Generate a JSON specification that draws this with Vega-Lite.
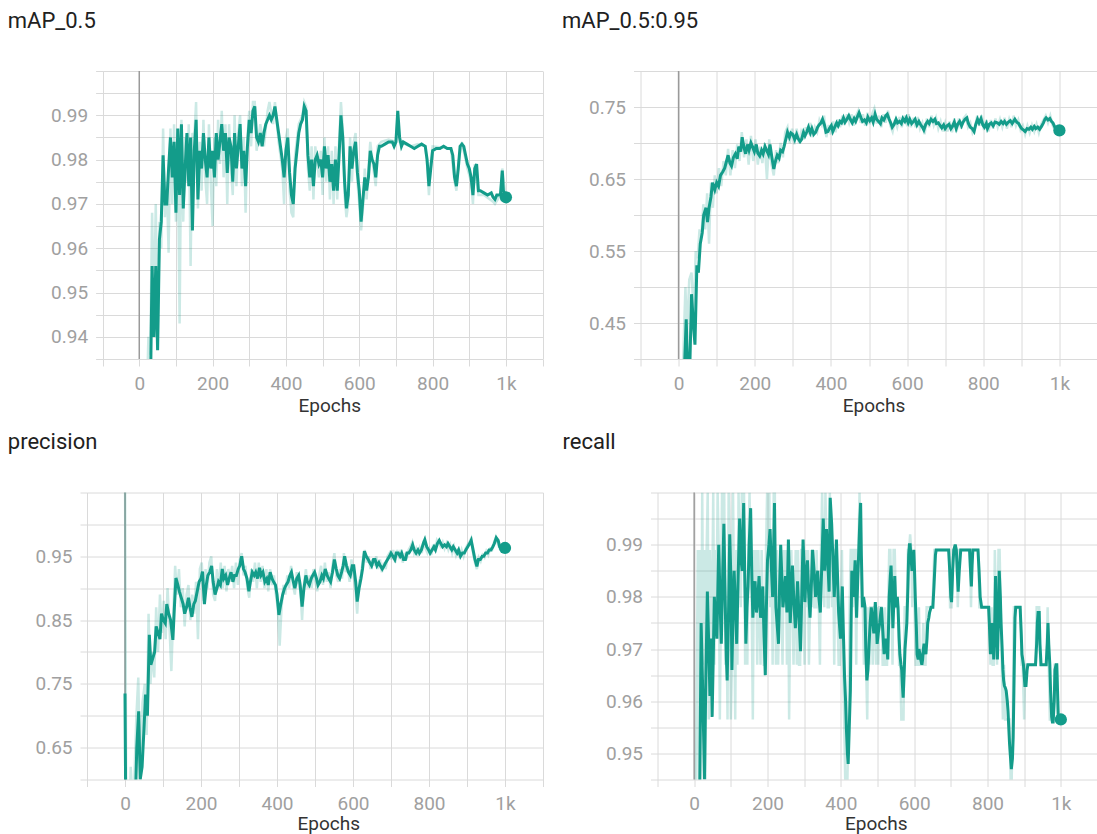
{
"$schema": "https://vega.github.io/schema/vega-lite/v6.json",
"background": "white",
"padding": {"left": 7, "top": 9, "right": 0, "bottom": 0},
"config": {
  "view": {"stroke": null},
  "axis": {"gridColor": "#dadada", "tickColor": "#dadada", "gridWidth": 1, "tickWidth": 1, "tickSize": 7, "domain": false, "labelColor": "#a0a0a0", "labelFont": "Roboto", "labelFontSize": 19, "titleFont": "Roboto", "titleFontWeight": "normal", "labelOverlap": false, "labelBound": false, "tickCount": 100}
},
"datasets": {
"p1s": [{"e":0,"v":0.6},{"e":10,"v":0.8},{"e":20,"v":0.88},{"e":30,"v":0.925},{"e":35,"v":0.956},{"e":40,"v":0.94},{"e":45,"v":0.956},{"e":50,"v":0.937},{"e":55,"v":0.962},{"e":60,"v":0.966},{"e":65,"v":0.981},{"e":70,"v":0.97},{"e":75,"v":0.97},{"e":80,"v":0.978},{"e":85,"v":0.985},{"e":90,"v":0.976},{"e":95,"v":0.984},{"e":100,"v":0.968},{"e":105,"v":0.987},{"e":110,"v":0.972},{"e":115,"v":0.988},{"e":120,"v":0.969},{"e":125,"v":0.978},{"e":130,"v":0.986},{"e":135,"v":0.974},{"e":140,"v":0.985},{"e":145,"v":0.964},{"e":150,"v":0.982},{"e":155,"v":0.989},{"e":160,"v":0.971},{"e":165,"v":0.982},{"e":170,"v":0.978},{"e":175,"v":0.986},{"e":180,"v":0.98},{"e":185,"v":0.976},{"e":190,"v":0.985},{"e":195,"v":0.978},{"e":200,"v":0.982},{"e":205,"v":0.976},{"e":210,"v":0.986},{"e":215,"v":0.98},{"e":220,"v":0.984},{"e":225,"v":0.988},{"e":230,"v":0.982},{"e":235,"v":0.986},{"e":240,"v":0.977},{"e":245,"v":0.985},{"e":250,"v":0.983},{"e":255,"v":0.975},{"e":260,"v":0.986},{"e":265,"v":0.978},{"e":270,"v":0.983},{"e":275,"v":0.988},{"e":280,"v":0.978},{"e":285,"v":0.982},{"e":290,"v":0.974},{"e":295,"v":0.983},{"e":300,"v":0.989},{"e":305,"v":0.986},{"e":310,"v":0.991},{"e":315,"v":0.992},{"e":320,"v":0.985},{"e":325,"v":0.984},{"e":330,"v":0.986},{"e":335,"v":0.983},{"e":340,"v":0.986},{"e":345,"v":0.988},{"e":350,"v":0.989},{"e":355,"v":0.99},{"e":360,"v":0.989},{"e":365,"v":0.99},{"e":370,"v":0.992},{"e":375,"v":0.989},{"e":380,"v":0.986},{"e":385,"v":0.983},{"e":390,"v":0.98},{"e":395,"v":0.976},{"e":400,"v":0.982},{"e":405,"v":0.985},{"e":410,"v":0.977},{"e":415,"v":0.972},{"e":420,"v":0.97},{"e":425,"v":0.978},{"e":430,"v":0.982},{"e":435,"v":0.986},{"e":440,"v":0.988},{"e":445,"v":0.989},{"e":450,"v":0.992},{"e":455,"v":0.991},{"e":460,"v":0.981},{"e":465,"v":0.976},{"e":470,"v":0.98},{"e":475,"v":0.974},{"e":480,"v":0.98},{"e":485,"v":0.981},{"e":490,"v":0.979},{"e":495,"v":0.98},{"e":500,"v":0.976},{"e":505,"v":0.983},{"e":510,"v":0.978},{"e":515,"v":0.981},{"e":520,"v":0.975},{"e":525,"v":0.979},{"e":530,"v":0.973},{"e":535,"v":0.98},{"e":540,"v":0.973},{"e":545,"v":0.981},{"e":550,"v":0.99},{"e":555,"v":0.985},{"e":560,"v":0.975},{"e":565,"v":0.969},{"e":570,"v":0.972},{"e":575,"v":0.983},{"e":580,"v":0.978},{"e":585,"v":0.982},{"e":590,"v":0.984},{"e":595,"v":0.977},{"e":600,"v":0.973},{"e":605,"v":0.966},{"e":610,"v":0.971},{"e":615,"v":0.976},{"e":620,"v":0.973},{"e":625,"v":0.976},{"e":630,"v":0.982},{"e":635,"v":0.98},{"e":640,"v":0.979},{"e":645,"v":0.976},{"e":650,"v":0.981},{"e":655,"v":0.983},{"e":660,"v":0.983},{"e":670,"v":0.9835},{"e":680,"v":0.984},{"e":690,"v":0.984},{"e":695,"v":0.983},{"e":700,"v":0.984},{"e":705,"v":0.991},{"e":710,"v":0.985},{"e":715,"v":0.983},{"e":720,"v":0.984},{"e":730,"v":0.9835},{"e":740,"v":0.983},{"e":750,"v":0.9825},{"e":760,"v":0.983},{"e":770,"v":0.9835},{"e":780,"v":0.983},{"e":785,"v":0.98},{"e":790,"v":0.974},{"e":795,"v":0.978},{"e":800,"v":0.982},{"e":810,"v":0.9825},{"e":820,"v":0.9825},{"e":830,"v":0.983},{"e":840,"v":0.9825},{"e":850,"v":0.9825},{"e":855,"v":0.981},{"e":860,"v":0.976},{"e":865,"v":0.974},{"e":870,"v":0.978},{"e":875,"v":0.983},{"e":880,"v":0.9835},{"e":885,"v":0.983},{"e":890,"v":0.981},{"e":895,"v":0.979},{"e":900,"v":0.978},{"e":905,"v":0.976},{"e":910,"v":0.972},{"e":915,"v":0.978},{"e":920,"v":0.979},{"e":925,"v":0.973},{"e":930,"v":0.973},{"e":940,"v":0.9725},{"e":950,"v":0.972},{"e":960,"v":0.9725},{"e":965,"v":0.9715},{"e":970,"v":0.971},{"e":975,"v":0.972},{"e":980,"v":0.972},{"e":985,"v":0.972},{"e":990,"v":0.9775},{"e":993,"v":0.973},{"e":1000,"v":0.9715}],
"p1r": [{"e":20,"v":0.925},{"e":25,"v":0.94},{"e":30,"v":0.936},{"e":35,"v":0.968},{"e":40,"v":0.945},{"e":45,"v":0.97},{"e":50,"v":0.938},{"e":55,"v":0.966},{"e":60,"v":0.96},{"e":65,"v":0.987},{"e":70,"v":0.967},{"e":75,"v":0.975},{"e":80,"v":0.959},{"e":85,"v":0.987},{"e":90,"v":0.97},{"e":95,"v":0.988},{"e":100,"v":0.966},{"e":105,"v":0.984},{"e":110,"v":0.943},{"e":115,"v":0.989},{"e":120,"v":0.966},{"e":125,"v":0.985},{"e":130,"v":0.975},{"e":135,"v":0.988},{"e":140,"v":0.956},{"e":145,"v":0.986},{"e":150,"v":0.985},{"e":155,"v":0.993},{"e":160,"v":0.969},{"e":165,"v":0.984},{"e":170,"v":0.973},{"e":175,"v":0.989},{"e":180,"v":0.976},{"e":185,"v":0.97},{"e":190,"v":0.988},{"e":195,"v":0.975},{"e":200,"v":0.965},{"e":205,"v":0.985},{"e":210,"v":0.974},{"e":215,"v":0.989},{"e":220,"v":0.979},{"e":225,"v":0.991},{"e":230,"v":0.976},{"e":235,"v":0.988},{"e":240,"v":0.97},{"e":245,"v":0.988},{"e":250,"v":0.978},{"e":255,"v":0.972},{"e":260,"v":0.99},{"e":265,"v":0.974},{"e":270,"v":0.986},{"e":275,"v":0.99},{"e":280,"v":0.974},{"e":285,"v":0.985},{"e":290,"v":0.968},{"e":295,"v":0.985},{"e":300,"v":0.991},{"e":305,"v":0.983},{"e":310,"v":0.993},{"e":315,"v":0.993},{"e":320,"v":0.982},{"e":330,"v":0.988},{"e":340,"v":0.983},{"e":350,"v":0.991},{"e":355,"v":0.993},{"e":365,"v":0.988},{"e":370,"v":0.993},{"e":380,"v":0.984},{"e":390,"v":0.978},{"e":395,"v":0.97},{"e":400,"v":0.985},{"e":405,"v":0.987},{"e":410,"v":0.973},{"e":415,"v":0.968},{"e":420,"v":0.967},{"e":425,"v":0.981},{"e":435,"v":0.988},{"e":445,"v":0.99},{"e":450,"v":0.993},{"e":455,"v":0.992},{"e":460,"v":0.978},{"e":465,"v":0.973},{"e":470,"v":0.983},{"e":475,"v":0.971},{"e":480,"v":0.983},{"e":490,"v":0.976},{"e":495,"v":0.982},{"e":500,"v":0.972},{"e":505,"v":0.985},{"e":510,"v":0.975},{"e":515,"v":0.983},{"e":520,"v":0.971},{"e":525,"v":0.982},{"e":530,"v":0.97},{"e":535,"v":0.983},{"e":540,"v":0.971},{"e":545,"v":0.984},{"e":550,"v":0.993},{"e":555,"v":0.987},{"e":560,"v":0.972},{"e":565,"v":0.967},{"e":570,"v":0.97},{"e":575,"v":0.985},{"e":580,"v":0.975},{"e":585,"v":0.984},{"e":590,"v":0.986},{"e":595,"v":0.975},{"e":600,"v":0.97},{"e":605,"v":0.964},{"e":610,"v":0.969},{"e":615,"v":0.978},{"e":620,"v":0.971},{"e":625,"v":0.978},{"e":630,"v":0.984},{"e":640,"v":0.977},{"e":645,"v":0.974},{"e":650,"v":0.983},{"e":660,"v":0.984},{"e":680,"v":0.9845},{"e":700,"v":0.984},{"e":705,"v":0.99},{"e":710,"v":0.984},{"e":740,"v":0.983},{"e":760,"v":0.9835},{"e":780,"v":0.983},{"e":785,"v":0.979},{"e":790,"v":0.972},{"e":795,"v":0.979},{"e":800,"v":0.983},{"e":850,"v":0.9825},{"e":860,"v":0.975},{"e":865,"v":0.973},{"e":870,"v":0.979},{"e":880,"v":0.984},{"e":895,"v":0.978},{"e":905,"v":0.975},{"e":910,"v":0.97},{"e":915,"v":0.979},{"e":925,"v":0.972},{"e":940,"v":0.972},{"e":965,"v":0.9705},{"e":970,"v":0.97},{"e":985,"v":0.972},{"e":990,"v":0.978},{"e":1000,"v":0.971}],
"p2s": [{"e":0,"v":0.05},{"e":10,"v":0.3},{"e":15,"v":0.38},{"e":20,"v":0.455},{"e":23,"v":0.4},{"e":30,"v":0.4},{"e":34,"v":0.49},{"e":40,"v":0.44},{"e":43,"v":0.42},{"e":48,"v":0.53},{"e":52,"v":0.52},{"e":57,"v":0.56},{"e":62,"v":0.575},{"e":66,"v":0.6},{"e":72,"v":0.61},{"e":76,"v":0.59},{"e":80,"v":0.61},{"e":85,"v":0.625},{"e":89,"v":0.645},{"e":95,"v":0.635},{"e":100,"v":0.645},{"e":105,"v":0.64},{"e":110,"v":0.655},{"e":116,"v":0.66},{"e":121,"v":0.665},{"e":126,"v":0.675},{"e":130,"v":0.683},{"e":135,"v":0.672},{"e":139,"v":0.668},{"e":144,"v":0.68},{"e":149,"v":0.685},{"e":154,"v":0.678},{"e":158,"v":0.695},{"e":163,"v":0.688},{"e":167,"v":0.708},{"e":172,"v":0.693},{"e":176,"v":0.685},{"e":181,"v":0.698},{"e":185,"v":0.69},{"e":190,"v":0.7},{"e":194,"v":0.695},{"e":199,"v":0.688},{"e":204,"v":0.698},{"e":208,"v":0.686},{"e":213,"v":0.682},{"e":218,"v":0.69},{"e":222,"v":0.685},{"e":227,"v":0.695},{"e":231,"v":0.69},{"e":236,"v":0.684},{"e":240,"v":0.698},{"e":245,"v":0.68},{"e":250,"v":0.664},{"e":255,"v":0.676},{"e":259,"v":0.683},{"e":264,"v":0.679},{"e":268,"v":0.69},{"e":273,"v":0.688},{"e":277,"v":0.695},{"e":282,"v":0.706},{"e":286,"v":0.715},{"e":291,"v":0.708},{"e":295,"v":0.714},{"e":300,"v":0.712},{"e":305,"v":0.705},{"e":310,"v":0.712},{"e":314,"v":0.706},{"e":319,"v":0.702},{"e":323,"v":0.705},{"e":328,"v":0.715},{"e":332,"v":0.71},{"e":337,"v":0.716},{"e":341,"v":0.722},{"e":346,"v":0.714},{"e":350,"v":0.72},{"e":355,"v":0.712},{"e":360,"v":0.715},{"e":365,"v":0.722},{"e":369,"v":0.725},{"e":374,"v":0.728},{"e":378,"v":0.733},{"e":383,"v":0.725},{"e":387,"v":0.715},{"e":392,"v":0.716},{"e":396,"v":0.72},{"e":401,"v":0.724},{"e":405,"v":0.716},{"e":410,"v":0.722},{"e":415,"v":0.728},{"e":419,"v":0.724},{"e":424,"v":0.73},{"e":428,"v":0.728},{"e":433,"v":0.735},{"e":437,"v":0.729},{"e":442,"v":0.733},{"e":447,"v":0.738},{"e":451,"v":0.733},{"e":456,"v":0.728},{"e":461,"v":0.734},{"e":465,"v":0.73},{"e":470,"v":0.737},{"e":474,"v":0.742},{"e":479,"v":0.735},{"e":483,"v":0.73},{"e":488,"v":0.732},{"e":493,"v":0.728},{"e":497,"v":0.736},{"e":502,"v":0.731},{"e":507,"v":0.735},{"e":511,"v":0.729},{"e":516,"v":0.74},{"e":520,"v":0.733},{"e":525,"v":0.73},{"e":530,"v":0.727},{"e":534,"v":0.735},{"e":539,"v":0.732},{"e":544,"v":0.738},{"e":548,"v":0.74},{"e":553,"v":0.733},{"e":557,"v":0.728},{"e":561,"v":0.722},{"e":566,"v":0.726},{"e":571,"v":0.733},{"e":575,"v":0.728},{"e":580,"v":0.73},{"e":585,"v":0.727},{"e":589,"v":0.734},{"e":594,"v":0.73},{"e":598,"v":0.735},{"e":603,"v":0.728},{"e":607,"v":0.733},{"e":612,"v":0.727},{"e":617,"v":0.73},{"e":621,"v":0.733},{"e":626,"v":0.725},{"e":631,"v":0.73},{"e":635,"v":0.726},{"e":640,"v":0.722},{"e":644,"v":0.718},{"e":649,"v":0.726},{"e":654,"v":0.73},{"e":658,"v":0.727},{"e":663,"v":0.733},{"e":668,"v":0.73},{"e":673,"v":0.733},{"e":677,"v":0.727},{"e":682,"v":0.728},{"e":687,"v":0.724},{"e":691,"v":0.721},{"e":696,"v":0.725},{"e":700,"v":0.72},{"e":705,"v":0.724},{"e":710,"v":0.726},{"e":715,"v":0.72},{"e":719,"v":0.723},{"e":724,"v":0.729},{"e":729,"v":0.72},{"e":733,"v":0.726},{"e":738,"v":0.73},{"e":743,"v":0.724},{"e":747,"v":0.729},{"e":752,"v":0.733},{"e":757,"v":0.735},{"e":761,"v":0.727},{"e":766,"v":0.722},{"e":771,"v":0.72},{"e":776,"v":0.716},{"e":780,"v":0.725},{"e":785,"v":0.733},{"e":789,"v":0.728},{"e":794,"v":0.734},{"e":799,"v":0.725},{"e":803,"v":0.722},{"e":808,"v":0.727},{"e":811,"v":0.72},{"e":816,"v":0.726},{"e":821,"v":0.728},{"e":826,"v":0.724},{"e":831,"v":0.729},{"e":837,"v":0.728},{"e":842,"v":0.726},{"e":847,"v":0.73},{"e":852,"v":0.727},{"e":856,"v":0.73},{"e":861,"v":0.726},{"e":866,"v":0.729},{"e":871,"v":0.731},{"e":876,"v":0.727},{"e":883,"v":0.733},{"e":888,"v":0.729},{"e":893,"v":0.727},{"e":897,"v":0.723},{"e":901,"v":0.72},{"e":906,"v":0.718},{"e":910,"v":0.716},{"e":915,"v":0.72},{"e":920,"v":0.719},{"e":925,"v":0.722},{"e":929,"v":0.719},{"e":934,"v":0.723},{"e":938,"v":0.72},{"e":943,"v":0.722},{"e":948,"v":0.719},{"e":953,"v":0.723},{"e":958,"v":0.728},{"e":962,"v":0.733},{"e":965,"v":0.735},{"e":970,"v":0.732},{"e":975,"v":0.734},{"e":979,"v":0.73},{"e":983,"v":0.728},{"e":988,"v":0.722},{"e":993,"v":0.718},{"e":1000,"v":0.7175}],
"p2r": [{"e":5,"v":0.3},{"e":12,"v":0.4},{"e":18,"v":0.5},{"e":22,"v":0.43},{"e":28,"v":0.51},{"e":34,"v":0.52},{"e":40,"v":0.46},{"e":45,"v":0.55},{"e":50,"v":0.54},{"e":55,"v":0.58},{"e":60,"v":0.57},{"e":65,"v":0.615},{"e":70,"v":0.58},{"e":75,"v":0.63},{"e":80,"v":0.56},{"e":85,"v":0.645},{"e":90,"v":0.61},{"e":95,"v":0.655},{"e":100,"v":0.63},{"e":106,"v":0.665},{"e":112,"v":0.64},{"e":118,"v":0.675},{"e":124,"v":0.655},{"e":130,"v":0.692},{"e":136,"v":0.655},{"e":142,"v":0.69},{"e":148,"v":0.665},{"e":154,"v":0.698},{"e":160,"v":0.675},{"e":166,"v":0.715},{"e":172,"v":0.68},{"e":178,"v":0.705},{"e":184,"v":0.67},{"e":190,"v":0.71},{"e":196,"v":0.675},{"e":202,"v":0.705},{"e":208,"v":0.67},{"e":214,"v":0.695},{"e":220,"v":0.672},{"e":226,"v":0.7},{"e":232,"v":0.65},{"e":238,"v":0.705},{"e":244,"v":0.67},{"e":250,"v":0.655},{"e":256,"v":0.69},{"e":262,"v":0.672},{"e":268,"v":0.7},{"e":274,"v":0.68},{"e":280,"v":0.715},{"e":286,"v":0.722},{"e":292,"v":0.7},{"e":298,"v":0.72},{"e":304,"v":0.698},{"e":310,"v":0.72},{"e":316,"v":0.7},{"e":322,"v":0.715},{"e":328,"v":0.705},{"e":334,"v":0.722},{"e":340,"v":0.712},{"e":346,"v":0.728},{"e":352,"v":0.708},{"e":358,"v":0.722},{"e":364,"v":0.715},{"e":370,"v":0.732},{"e":376,"v":0.725},{"e":382,"v":0.738},{"e":388,"v":0.708},{"e":394,"v":0.725},{"e":400,"v":0.712},{"e":406,"v":0.73},{"e":412,"v":0.715},{"e":418,"v":0.733},{"e":424,"v":0.722},{"e":430,"v":0.738},{"e":436,"v":0.725},{"e":442,"v":0.74},{"e":448,"v":0.728},{"e":454,"v":0.74},{"e":460,"v":0.724},{"e":466,"v":0.738},{"e":472,"v":0.745},{"e":478,"v":0.728},{"e":484,"v":0.74},{"e":490,"v":0.724},{"e":496,"v":0.742},{"e":502,"v":0.726},{"e":508,"v":0.74},{"e":514,"v":0.748},{"e":520,"v":0.727},{"e":526,"v":0.738},{"e":532,"v":0.722},{"e":538,"v":0.74},{"e":544,"v":0.728},{"e":550,"v":0.745},{"e":556,"v":0.724},{"e":562,"v":0.716},{"e":568,"v":0.732},{"e":574,"v":0.722},{"e":580,"v":0.736},{"e":586,"v":0.722},{"e":592,"v":0.738},{"e":598,"v":0.728},{"e":604,"v":0.74},{"e":610,"v":0.722},{"e":616,"v":0.735},{"e":622,"v":0.722},{"e":628,"v":0.736},{"e":634,"v":0.72},{"e":640,"v":0.728},{"e":646,"v":0.712},{"e":652,"v":0.734},{"e":658,"v":0.722},{"e":664,"v":0.738},{"e":670,"v":0.725},{"e":676,"v":0.735},{"e":682,"v":0.72},{"e":688,"v":0.73},{"e":694,"v":0.716},{"e":700,"v":0.728},{"e":706,"v":0.716},{"e":712,"v":0.73},{"e":718,"v":0.715},{"e":724,"v":0.734},{"e":730,"v":0.716},{"e":736,"v":0.734},{"e":742,"v":0.72},{"e":748,"v":0.734},{"e":754,"v":0.738},{"e":760,"v":0.722},{"e":766,"v":0.728},{"e":772,"v":0.714},{"e":778,"v":0.72},{"e":784,"v":0.738},{"e":790,"v":0.724},{"e":796,"v":0.738},{"e":802,"v":0.718},{"e":808,"v":0.732},{"e":814,"v":0.716},{"e":820,"v":0.732},{"e":826,"v":0.72},{"e":832,"v":0.734},{"e":838,"v":0.722},{"e":844,"v":0.733},{"e":850,"v":0.722},{"e":856,"v":0.735},{"e":862,"v":0.72},{"e":868,"v":0.733},{"e":874,"v":0.722},{"e":880,"v":0.738},{"e":886,"v":0.724},{"e":892,"v":0.732},{"e":898,"v":0.718},{"e":904,"v":0.724},{"e":910,"v":0.712},{"e":916,"v":0.724},{"e":922,"v":0.714},{"e":928,"v":0.725},{"e":934,"v":0.716},{"e":940,"v":0.726},{"e":946,"v":0.714},{"e":952,"v":0.726},{"e":958,"v":0.732},{"e":964,"v":0.738},{"e":970,"v":0.728},{"e":976,"v":0.738},{"e":982,"v":0.725},{"e":988,"v":0.718},{"e":994,"v":0.714},{"e":1000,"v":0.716}],
"p3s": [{"e":0,"v":0.735},{"e":2,"v":0.55},{"e":10,"v":0.5},{"e":20,"v":0.55},{"e":28,"v":0.58},{"e":31,"v":0.65},{"e":36,"v":0.707},{"e":40,"v":0.6},{"e":45,"v":0.62},{"e":50,"v":0.68},{"e":54,"v":0.733},{"e":59,"v":0.7},{"e":64,"v":0.827},{"e":68,"v":0.78},{"e":73,"v":0.79},{"e":78,"v":0.8},{"e":82,"v":0.84},{"e":87,"v":0.83},{"e":92,"v":0.82},{"e":96,"v":0.86},{"e":101,"v":0.85},{"e":106,"v":0.845},{"e":110,"v":0.875},{"e":115,"v":0.86},{"e":120,"v":0.85},{"e":126,"v":0.819},{"e":130,"v":0.87},{"e":134,"v":0.916},{"e":139,"v":0.905},{"e":143,"v":0.895},{"e":148,"v":0.885},{"e":153,"v":0.875},{"e":157,"v":0.86},{"e":162,"v":0.87},{"e":167,"v":0.885},{"e":171,"v":0.87},{"e":176,"v":0.855},{"e":181,"v":0.875},{"e":185,"v":0.88},{"e":190,"v":0.895},{"e":195,"v":0.91},{"e":200,"v":0.915},{"e":204,"v":0.926},{"e":209,"v":0.875},{"e":214,"v":0.905},{"e":218,"v":0.92},{"e":223,"v":0.925},{"e":228,"v":0.935},{"e":232,"v":0.91},{"e":237,"v":0.89},{"e":242,"v":0.9},{"e":246,"v":0.91},{"e":251,"v":0.905},{"e":256,"v":0.93},{"e":260,"v":0.915},{"e":265,"v":0.92},{"e":270,"v":0.905},{"e":274,"v":0.915},{"e":279,"v":0.925},{"e":284,"v":0.91},{"e":288,"v":0.92},{"e":293,"v":0.92},{"e":298,"v":0.93},{"e":302,"v":0.935},{"e":307,"v":0.95},{"e":312,"v":0.93},{"e":316,"v":0.925},{"e":321,"v":0.915},{"e":326,"v":0.895},{"e":330,"v":0.91},{"e":335,"v":0.925},{"e":340,"v":0.92},{"e":344,"v":0.925},{"e":349,"v":0.915},{"e":354,"v":0.932},{"e":358,"v":0.92},{"e":363,"v":0.925},{"e":368,"v":0.91},{"e":373,"v":0.915},{"e":377,"v":0.905},{"e":382,"v":0.925},{"e":387,"v":0.915},{"e":391,"v":0.91},{"e":396,"v":0.905},{"e":400,"v":0.89},{"e":405,"v":0.858},{"e":410,"v":0.875},{"e":415,"v":0.89},{"e":420,"v":0.9},{"e":424,"v":0.905},{"e":429,"v":0.91},{"e":434,"v":0.92},{"e":438,"v":0.925},{"e":443,"v":0.91},{"e":447,"v":0.9},{"e":452,"v":0.915},{"e":457,"v":0.92},{"e":461,"v":0.905},{"e":466,"v":0.871},{"e":471,"v":0.9},{"e":476,"v":0.92},{"e":480,"v":0.91},{"e":485,"v":0.905},{"e":490,"v":0.915},{"e":494,"v":0.92},{"e":499,"v":0.925},{"e":504,"v":0.915},{"e":508,"v":0.905},{"e":513,"v":0.91},{"e":518,"v":0.92},{"e":522,"v":0.915},{"e":527,"v":0.93},{"e":532,"v":0.92},{"e":536,"v":0.915},{"e":541,"v":0.91},{"e":546,"v":0.925},{"e":551,"v":0.945},{"e":556,"v":0.93},{"e":560,"v":0.92},{"e":565,"v":0.915},{"e":570,"v":0.925},{"e":574,"v":0.935},{"e":578,"v":0.95},{"e":583,"v":0.935},{"e":588,"v":0.925},{"e":593,"v":0.92},{"e":598,"v":0.935},{"e":602,"v":0.935},{"e":607,"v":0.91},{"e":611,"v":0.879},{"e":616,"v":0.9},{"e":621,"v":0.915},{"e":625,"v":0.93},{"e":630,"v":0.958},{"e":635,"v":0.95},{"e":640,"v":0.945},{"e":644,"v":0.94},{"e":649,"v":0.935},{"e":654,"v":0.945},{"e":658,"v":0.945},{"e":663,"v":0.935},{"e":668,"v":0.94},{"e":672,"v":0.935},{"e":677,"v":0.93},{"e":682,"v":0.935},{"e":686,"v":0.94},{"e":691,"v":0.945},{"e":696,"v":0.95},{"e":700,"v":0.955},{"e":705,"v":0.95},{"e":710,"v":0.945},{"e":714,"v":0.955},{"e":719,"v":0.955},{"e":724,"v":0.95},{"e":728,"v":0.955},{"e":733,"v":0.945},{"e":738,"v":0.945},{"e":742,"v":0.955},{"e":747,"v":0.955},{"e":752,"v":0.96},{"e":757,"v":0.968},{"e":761,"v":0.96},{"e":766,"v":0.955},{"e":771,"v":0.96},{"e":775,"v":0.955},{"e":780,"v":0.96},{"e":785,"v":0.97},{"e":789,"v":0.976},{"e":794,"v":0.965},{"e":799,"v":0.96},{"e":803,"v":0.955},{"e":808,"v":0.96},{"e":813,"v":0.965},{"e":817,"v":0.96},{"e":822,"v":0.97},{"e":827,"v":0.975},{"e":831,"v":0.97},{"e":836,"v":0.965},{"e":841,"v":0.968},{"e":846,"v":0.965},{"e":850,"v":0.97},{"e":855,"v":0.965},{"e":860,"v":0.96},{"e":864,"v":0.965},{"e":869,"v":0.96},{"e":874,"v":0.955},{"e":878,"v":0.96},{"e":883,"v":0.95},{"e":888,"v":0.955},{"e":893,"v":0.955},{"e":897,"v":0.96},{"e":902,"v":0.965},{"e":907,"v":0.97},{"e":911,"v":0.975},{"e":916,"v":0.96},{"e":921,"v":0.945},{"e":926,"v":0.934},{"e":930,"v":0.945},{"e":935,"v":0.945},{"e":940,"v":0.95},{"e":944,"v":0.95},{"e":949,"v":0.955},{"e":954,"v":0.955},{"e":958,"v":0.96},{"e":963,"v":0.96},{"e":968,"v":0.965},{"e":972,"v":0.97},{"e":977,"v":0.979},{"e":982,"v":0.975},{"e":986,"v":0.965},{"e":991,"v":0.963},{"e":1000,"v":0.963}],
"p3r": [{"e":0,"v":1.1},{"e":3,"v":0.6},{"e":8,"v":0.45},{"e":15,"v":0.62},{"e":22,"v":0.55},{"e":30,"v":0.7},{"e":35,"v":0.76},{"e":40,"v":0.6},{"e":46,"v":0.72},{"e":52,"v":0.75},{"e":57,"v":0.67},{"e":62,"v":0.86},{"e":67,"v":0.75},{"e":72,"v":0.8},{"e":77,"v":0.76},{"e":82,"v":0.87},{"e":87,"v":0.8},{"e":92,"v":0.89},{"e":97,"v":0.83},{"e":102,"v":0.88},{"e":107,"v":0.82},{"e":112,"v":0.9},{"e":117,"v":0.84},{"e":122,"v":0.77},{"e":127,"v":0.86},{"e":132,"v":0.935},{"e":137,"v":0.89},{"e":142,"v":0.93},{"e":147,"v":0.87},{"e":152,"v":0.9},{"e":157,"v":0.84},{"e":162,"v":0.89},{"e":167,"v":0.905},{"e":172,"v":0.85},{"e":177,"v":0.89},{"e":182,"v":0.86},{"e":187,"v":0.91},{"e":192,"v":0.82},{"e":197,"v":0.93},{"e":202,"v":0.94},{"e":207,"v":0.88},{"e":212,"v":0.93},{"e":217,"v":0.9},{"e":222,"v":0.94},{"e":227,"v":0.95},{"e":232,"v":0.89},{"e":237,"v":0.88},{"e":242,"v":0.93},{"e":247,"v":0.9},{"e":252,"v":0.94},{"e":257,"v":0.9},{"e":262,"v":0.935},{"e":267,"v":0.895},{"e":272,"v":0.93},{"e":277,"v":0.91},{"e":282,"v":0.935},{"e":287,"v":0.9},{"e":292,"v":0.94},{"e":297,"v":0.905},{"e":302,"v":0.945},{"e":307,"v":0.955},{"e":312,"v":0.92},{"e":317,"v":0.935},{"e":322,"v":0.9},{"e":327,"v":0.885},{"e":332,"v":0.93},{"e":337,"v":0.91},{"e":342,"v":0.94},{"e":347,"v":0.9},{"e":352,"v":0.94},{"e":357,"v":0.91},{"e":362,"v":0.935},{"e":367,"v":0.9},{"e":372,"v":0.93},{"e":377,"v":0.895},{"e":382,"v":0.93},{"e":387,"v":0.905},{"e":392,"v":0.92},{"e":397,"v":0.89},{"e":402,"v":0.87},{"e":407,"v":0.81},{"e":412,"v":0.87},{"e":417,"v":0.905},{"e":422,"v":0.89},{"e":427,"v":0.92},{"e":432,"v":0.9},{"e":437,"v":0.935},{"e":442,"v":0.905},{"e":447,"v":0.89},{"e":452,"v":0.925},{"e":457,"v":0.905},{"e":462,"v":0.895},{"e":466,"v":0.85},{"e":471,"v":0.905},{"e":476,"v":0.93},{"e":481,"v":0.9},{"e":486,"v":0.92},{"e":491,"v":0.9},{"e":496,"v":0.93},{"e":501,"v":0.91},{"e":506,"v":0.895},{"e":511,"v":0.92},{"e":516,"v":0.935},{"e":521,"v":0.905},{"e":526,"v":0.94},{"e":531,"v":0.91},{"e":536,"v":0.925},{"e":541,"v":0.9},{"e":546,"v":0.935},{"e":551,"v":0.955},{"e":556,"v":0.92},{"e":561,"v":0.91},{"e":566,"v":0.93},{"e":571,"v":0.915},{"e":576,"v":0.955},{"e":581,"v":0.925},{"e":586,"v":0.935},{"e":591,"v":0.91},{"e":596,"v":0.945},{"e":601,"v":0.92},{"e":606,"v":0.9},{"e":611,"v":0.86},{"e":616,"v":0.91},{"e":621,"v":0.92},{"e":626,"v":0.945},{"e":631,"v":0.96},{"e":636,"v":0.94},{"e":641,"v":0.95},{"e":646,"v":0.93},{"e":651,"v":0.945},{"e":656,"v":0.935},{"e":661,"v":0.95},{"e":666,"v":0.93},{"e":671,"v":0.945},{"e":676,"v":0.925},{"e":681,"v":0.94},{"e":686,"v":0.93},{"e":691,"v":0.95},{"e":696,"v":0.955},{"e":701,"v":0.945},{"e":706,"v":0.96},{"e":711,"v":0.94},{"e":716,"v":0.96},{"e":721,"v":0.95},{"e":726,"v":0.96},{"e":731,"v":0.94},{"e":736,"v":0.955},{"e":741,"v":0.945},{"e":746,"v":0.96},{"e":751,"v":0.965},{"e":756,"v":0.972},{"e":761,"v":0.955},{"e":766,"v":0.962},{"e":771,"v":0.95},{"e":776,"v":0.963},{"e":781,"v":0.955},{"e":786,"v":0.975},{"e":791,"v":0.962},{"e":796,"v":0.955},{"e":801,"v":0.962},{"e":806,"v":0.952},{"e":811,"v":0.968},{"e":816,"v":0.958},{"e":821,"v":0.975},{"e":826,"v":0.97},{"e":831,"v":0.965},{"e":836,"v":0.972},{"e":841,"v":0.962},{"e":846,"v":0.97},{"e":851,"v":0.96},{"e":856,"v":0.968},{"e":861,"v":0.955},{"e":866,"v":0.965},{"e":871,"v":0.952},{"e":876,"v":0.962},{"e":881,"v":0.948},{"e":886,"v":0.96},{"e":891,"v":0.95},{"e":896,"v":0.962},{"e":901,"v":0.968},{"e":906,"v":0.972},{"e":911,"v":0.978},{"e":916,"v":0.955},{"e":921,"v":0.94},{"e":926,"v":0.93},{"e":931,"v":0.948},{"e":936,"v":0.942},{"e":941,"v":0.952},{"e":946,"v":0.948},{"e":951,"v":0.958},{"e":956,"v":0.952},{"e":961,"v":0.962},{"e":966,"v":0.96},{"e":971,"v":0.972},{"e":976,"v":0.98},{"e":981,"v":0.97},{"e":986,"v":0.962},{"e":991,"v":0.96},{"e":1000,"v":0.962}],
"p4s": [{"e":0,"v":0.9},{"e":10,"v":0.92},{"e":15,"v":0.94},{"e":19,"v":0.975},{"e":24,"v":0.96},{"e":28,"v":0.945},{"e":32,"v":0.965},{"e":36,"v":0.981},{"e":40,"v":0.97},{"e":43,"v":0.961},{"e":46,"v":0.972},{"e":49,"v":0.957},{"e":52,"v":0.968},{"e":55,"v":0.98},{"e":58,"v":0.976},{"e":62,"v":0.972},{"e":65,"v":0.983},{"e":67,"v":0.99},{"e":71,"v":0.978},{"e":74,"v":0.971},{"e":78,"v":0.985},{"e":81,"v":0.994},{"e":84,"v":0.982},{"e":86,"v":0.974},{"e":88,"v":0.968},{"e":90,"v":0.964},{"e":94,"v":0.978},{"e":97,"v":0.992},{"e":100,"v":0.984},{"e":103,"v":0.966},{"e":106,"v":0.978},{"e":109,"v":0.985},{"e":112,"v":0.979},{"e":116,"v":0.971},{"e":120,"v":0.984},{"e":124,"v":0.995},{"e":128,"v":0.987},{"e":131,"v":0.985},{"e":135,"v":0.998},{"e":138,"v":0.984},{"e":141,"v":0.971},{"e":144,"v":0.978},{"e":147,"v":0.982},{"e":150,"v":0.99},{"e":154,"v":0.997},{"e":157,"v":0.985},{"e":160,"v":0.976},{"e":163,"v":0.98},{"e":166,"v":0.983},{"e":170,"v":0.977},{"e":173,"v":0.979},{"e":177,"v":0.984},{"e":181,"v":0.976},{"e":184,"v":0.978},{"e":187,"v":0.982},{"e":190,"v":0.974},{"e":194,"v":0.965},{"e":197,"v":0.978},{"e":200,"v":0.987},{"e":204,"v":0.99},{"e":207,"v":0.993},{"e":211,"v":0.985},{"e":214,"v":0.98},{"e":217,"v":0.99},{"e":219,"v":0.998},{"e":221,"v":0.986},{"e":223,"v":0.978},{"e":227,"v":0.974},{"e":230,"v":0.971},{"e":233,"v":0.982},{"e":236,"v":0.99},{"e":239,"v":0.984},{"e":242,"v":0.978},{"e":246,"v":0.981},{"e":249,"v":0.984},{"e":253,"v":0.977},{"e":257,"v":0.991},{"e":260,"v":0.982},{"e":262,"v":0.975},{"e":265,"v":0.98},{"e":268,"v":0.986},{"e":272,"v":0.979},{"e":276,"v":0.974},{"e":279,"v":0.978},{"e":282,"v":0.983},{"e":286,"v":0.976},{"e":290,"v":0.9696},{"e":294,"v":0.982},{"e":297,"v":0.991},{"e":300,"v":0.985},{"e":302,"v":0.979},{"e":305,"v":0.984},{"e":309,"v":0.987},{"e":312,"v":0.981},{"e":316,"v":0.976},{"e":320,"v":0.983},{"e":323,"v":0.989},{"e":327,"v":0.985},{"e":331,"v":0.98},{"e":334,"v":0.983},{"e":337,"v":0.985},{"e":340,"v":0.98},{"e":344,"v":0.977},{"e":348,"v":0.986},{"e":352,"v":0.995},{"e":356,"v":0.985},{"e":359,"v":0.99},{"e":361,"v":0.993},{"e":365,"v":0.986},{"e":368,"v":0.981},{"e":371,"v":0.999},{"e":375,"v":0.994},{"e":378,"v":0.988},{"e":382,"v":0.98},{"e":385,"v":0.985},{"e":388,"v":0.991},{"e":391,"v":0.984},{"e":394,"v":0.977},{"e":397,"v":0.974},{"e":399,"v":0.972},{"e":402,"v":0.978},{"e":404,"v":0.982},{"e":407,"v":0.973},{"e":410,"v":0.965},{"e":413,"v":0.96},{"e":415,"v":0.955},{"e":418,"v":0.95},{"e":420,"v":0.948},{"e":423,"v":0.955},{"e":426,"v":0.962},{"e":428,"v":0.975},{"e":430,"v":0.985},{"e":433,"v":0.982},{"e":435,"v":0.98},{"e":437,"v":0.984},{"e":439,"v":0.987},{"e":441,"v":0.981},{"e":443,"v":0.976},{"e":446,"v":0.983},{"e":449,"v":0.989},{"e":452,"v":0.995},{"e":454,"v":0.998},{"e":456,"v":0.988},{"e":459,"v":0.978},{"e":462,"v":0.98},{"e":466,"v":0.978},{"e":468,"v":0.97},{"e":471,"v":0.964},{"e":474,"v":0.966},{"e":477,"v":0.971},{"e":480,"v":0.975},{"e":483,"v":0.978},{"e":486,"v":0.976},{"e":490,"v":0.973},{"e":492,"v":0.976},{"e":494,"v":0.979},{"e":497,"v":0.975},{"e":499,"v":0.971},{"e":502,"v":0.973},{"e":506,"v":0.975},{"e":509,"v":0.977},{"e":511,"v":0.978},{"e":514,"v":0.974},{"e":518,"v":0.969},{"e":520,"v":0.971},{"e":523,"v":0.972},{"e":526,"v":0.97},{"e":528,"v":0.968},{"e":530,"v":0.974},{"e":532,"v":0.98},{"e":535,"v":0.984},{"e":537,"v":0.986},{"e":540,"v":0.979},{"e":542,"v":0.974},{"e":545,"v":0.98},{"e":547,"v":0.984},{"e":549,"v":0.98},{"e":551,"v":0.978},{"e":554,"v":0.98},{"e":556,"v":0.978},{"e":559,"v":0.972},{"e":561,"v":0.969},{"e":564,"v":0.967},{"e":566,"v":0.966},{"e":568,"v":0.963},{"e":570,"v":0.9607},{"e":573,"v":0.966},{"e":575,"v":0.97},{"e":578,"v":0.973},{"e":580,"v":0.975},{"e":583,"v":0.982},{"e":585,"v":0.988},{"e":587,"v":0.99},{"e":589,"v":0.99},{"e":592,"v":0.987},{"e":594,"v":0.985},{"e":597,"v":0.987},{"e":599,"v":0.989},{"e":601,"v":0.985},{"e":603,"v":0.98},{"e":606,"v":0.974},{"e":608,"v":0.969},{"e":611,"v":0.968},{"e":613,"v":0.97},{"e":616,"v":0.969},{"e":618,"v":0.968},{"e":621,"v":0.967},{"e":623,"v":0.968},{"e":625,"v":0.97},{"e":627,"v":0.971},{"e":630,"v":0.97},{"e":632,"v":0.969},{"e":635,"v":0.972},{"e":637,"v":0.975},{"e":640,"v":0.976},{"e":642,"v":0.977},{"e":646,"v":0.978},{"e":651,"v":0.978},{"e":654,"v":0.982},{"e":656,"v":0.985},{"e":658,"v":0.988},{"e":660,"v":0.989},{"e":694,"v":0.989},{"e":697,"v":0.985},{"e":700,"v":0.98},{"e":702,"v":0.979},{"e":705,"v":0.985},{"e":708,"v":0.989},{"e":712,"v":0.99},{"e":715,"v":0.989},{"e":718,"v":0.984},{"e":720,"v":0.981},{"e":723,"v":0.985},{"e":727,"v":0.989},{"e":751,"v":0.989},{"e":753,"v":0.986},{"e":756,"v":0.982},{"e":758,"v":0.986},{"e":760,"v":0.989},{"e":774,"v":0.989},{"e":777,"v":0.985},{"e":780,"v":0.98},{"e":784,"v":0.978},{"e":803,"v":0.978},{"e":805,"v":0.975},{"e":808,"v":0.969},{"e":810,"v":0.972},{"e":813,"v":0.975},{"e":815,"v":0.972},{"e":817,"v":0.968},{"e":820,"v":0.976},{"e":822,"v":0.984},{"e":824,"v":0.977},{"e":827,"v":0.968},{"e":830,"v":0.976},{"e":832,"v":0.985},{"e":835,"v":0.98},{"e":837,"v":0.975},{"e":840,"v":0.97},{"e":842,"v":0.966},{"e":844,"v":0.964},{"e":846,"v":0.963},{"e":849,"v":0.9625},{"e":851,"v":0.962},{"e":854,"v":0.96},{"e":856,"v":0.958},{"e":858,"v":0.955},{"e":860,"v":0.952},{"e":863,"v":0.949},{"e":865,"v":0.947},{"e":868,"v":0.949},{"e":870,"v":0.953},{"e":872,"v":0.962},{"e":875,"v":0.976},{"e":877,"v":0.978},{"e":879,"v":0.978},{"e":889,"v":0.978},{"e":892,"v":0.973},{"e":894,"v":0.969},{"e":896,"v":0.968},{"e":898,"v":0.967},{"e":902,"v":0.963},{"e":905,"v":0.963},{"e":908,"v":0.966},{"e":910,"v":0.967},{"e":931,"v":0.967},{"e":934,"v":0.971},{"e":936,"v":0.975},{"e":938,"v":0.977},{"e":941,"v":0.977},{"e":943,"v":0.971},{"e":946,"v":0.967},{"e":960,"v":0.967},{"e":963,"v":0.971},{"e":965,"v":0.975},{"e":967,"v":0.971},{"e":970,"v":0.967},{"e":972,"v":0.962},{"e":975,"v":0.957},{"e":977,"v":0.956},{"e":979,"v":0.956},{"e":982,"v":0.96},{"e":984,"v":0.966},{"e":987,"v":0.967},{"e":989,"v":0.967},{"e":991,"v":0.962},{"e":993,"v":0.957},{"e":1000,"v":0.9565}],
"p4r": [{"e":0,"v":0.9},{"e":5,"v":0.945},{"e":10,"v":0.989},{"e":13,"v":0.945},{"e":16,"v":0.989},{"e":19,"v":0.9565},{"e":22,"v":1.0},{"e":25,"v":0.967},{"e":28,"v":0.989},{"e":31,"v":0.945},{"e":34,"v":0.989},{"e":37,"v":1.0},{"e":40,"v":0.9565},{"e":43,"v":0.989},{"e":46,"v":0.967},{"e":49,"v":0.978},{"e":52,"v":1.0},{"e":55,"v":0.967},{"e":58,"v":0.989},{"e":61,"v":0.978},{"e":64,"v":1.0},{"e":67,"v":0.989},{"e":70,"v":0.9565},{"e":73,"v":0.978},{"e":76,"v":1.0},{"e":79,"v":0.989},{"e":82,"v":1.0},{"e":85,"v":0.967},{"e":88,"v":0.978},{"e":91,"v":0.9565},{"e":94,"v":1.0},{"e":97,"v":0.989},{"e":100,"v":0.9565},{"e":103,"v":0.967},{"e":106,"v":1.0},{"e":109,"v":0.978},{"e":112,"v":0.9565},{"e":115,"v":0.989},{"e":118,"v":0.967},{"e":121,"v":1.0},{"e":124,"v":0.989},{"e":127,"v":0.978},{"e":130,"v":1.0},{"e":133,"v":0.989},{"e":136,"v":1.0},{"e":139,"v":0.967},{"e":142,"v":0.978},{"e":145,"v":0.967},{"e":148,"v":0.989},{"e":151,"v":1.0},{"e":154,"v":0.989},{"e":157,"v":0.978},{"e":160,"v":0.9565},{"e":163,"v":0.989},{"e":166,"v":0.978},{"e":169,"v":0.989},{"e":172,"v":0.967},{"e":175,"v":0.989},{"e":178,"v":0.978},{"e":181,"v":0.967},{"e":184,"v":0.989},{"e":187,"v":0.978},{"e":190,"v":0.967},{"e":193,"v":0.967},{"e":196,"v":0.989},{"e":199,"v":1.0},{"e":202,"v":0.989},{"e":205,"v":1.0},{"e":208,"v":0.978},{"e":211,"v":0.989},{"e":214,"v":0.967},{"e":217,"v":1.0},{"e":220,"v":1.0},{"e":223,"v":0.967},{"e":226,"v":0.989},{"e":229,"v":0.967},{"e":232,"v":0.978},{"e":235,"v":0.989},{"e":238,"v":0.978},{"e":241,"v":0.967},{"e":244,"v":0.989},{"e":247,"v":0.978},{"e":250,"v":0.989},{"e":253,"v":0.967},{"e":256,"v":0.989},{"e":259,"v":0.9565},{"e":262,"v":0.978},{"e":265,"v":0.989},{"e":268,"v":0.978},{"e":271,"v":0.967},{"e":274,"v":0.978},{"e":277,"v":0.989},{"e":280,"v":0.967},{"e":283,"v":0.989},{"e":286,"v":0.967},{"e":289,"v":0.967},{"e":292,"v":0.989},{"e":295,"v":0.989},{"e":298,"v":0.978},{"e":301,"v":0.967},{"e":304,"v":0.989},{"e":307,"v":0.978},{"e":310,"v":0.989},{"e":313,"v":0.967},{"e":316,"v":0.978},{"e":319,"v":0.989},{"e":322,"v":0.978},{"e":325,"v":0.989},{"e":328,"v":0.978},{"e":331,"v":0.978},{"e":334,"v":0.989},{"e":337,"v":0.978},{"e":340,"v":0.978},{"e":343,"v":0.967},{"e":346,"v":0.989},{"e":349,"v":1.0},{"e":352,"v":0.989},{"e":355,"v":0.978},{"e":358,"v":1.0},{"e":361,"v":0.989},{"e":364,"v":0.978},{"e":367,"v":0.978},{"e":370,"v":1.0},{"e":373,"v":0.989},{"e":376,"v":0.978},{"e":379,"v":0.989},{"e":382,"v":0.967},{"e":385,"v":0.989},{"e":388,"v":0.989},{"e":391,"v":0.978},{"e":394,"v":0.967},{"e":397,"v":0.967},{"e":400,"v":0.978},{"e":403,"v":0.989},{"e":406,"v":0.967},{"e":409,"v":0.9565},{"e":412,"v":0.945},{"e":415,"v":0.945},{"e":418,"v":0.945},{"e":421,"v":0.9565},{"e":424,"v":0.978},{"e":427,"v":0.989},{"e":430,"v":0.989},{"e":433,"v":0.978},{"e":436,"v":0.989},{"e":439,"v":0.989},{"e":442,"v":0.967},{"e":445,"v":0.989},{"e":448,"v":0.989},{"e":451,"v":1.0},{"e":454,"v":0.989},{"e":457,"v":0.978},{"e":460,"v":0.978},{"e":463,"v":0.967},{"e":466,"v":0.978},{"e":469,"v":0.967},{"e":472,"v":0.9565},{"e":475,"v":0.978},{"e":478,"v":0.967},{"e":481,"v":0.978},{"e":484,"v":0.978},{"e":487,"v":0.967},{"e":490,"v":0.978},{"e":493,"v":0.978},{"e":496,"v":0.967},{"e":499,"v":0.978},{"e":502,"v":0.967},{"e":505,"v":0.978},{"e":508,"v":0.978},{"e":511,"v":0.978},{"e":514,"v":0.967},{"e":517,"v":0.967},{"e":520,"v":0.978},{"e":523,"v":0.967},{"e":526,"v":0.967},{"e":529,"v":0.978},{"e":532,"v":0.989},{"e":535,"v":0.989},{"e":538,"v":0.978},{"e":541,"v":0.967},{"e":544,"v":0.989},{"e":547,"v":0.989},{"e":550,"v":0.978},{"e":553,"v":0.978},{"e":556,"v":0.978},{"e":559,"v":0.967},{"e":562,"v":0.967},{"e":565,"v":0.9565},{"e":568,"v":0.9565},{"e":571,"v":0.9565},{"e":574,"v":0.978},{"e":577,"v":0.978},{"e":580,"v":0.978},{"e":583,"v":0.989},{"e":586,"v":0.989},{"e":589,"v":0.992},{"e":592,"v":0.989},{"e":595,"v":0.978},{"e":598,"v":0.989},{"e":601,"v":0.978},{"e":604,"v":0.967},{"e":607,"v":0.967},{"e":610,"v":0.967},{"e":613,"v":0.978},{"e":616,"v":0.967},{"e":619,"v":0.967},{"e":622,"v":0.967},{"e":625,"v":0.975},{"e":628,"v":0.967},{"e":631,"v":0.967},{"e":634,"v":0.978},{"e":637,"v":0.978},{"e":640,"v":0.978},{"e":645,"v":0.978},{"e":650,"v":0.978},{"e":655,"v":0.989},{"e":660,"v":0.989},{"e":695,"v":0.989},{"e":698,"v":0.978},{"e":702,"v":0.978},{"e":706,"v":0.989},{"e":716,"v":0.989},{"e":719,"v":0.978},{"e":723,"v":0.989},{"e":752,"v":0.989},{"e":755,"v":0.978},{"e":758,"v":0.989},{"e":775,"v":0.989},{"e":778,"v":0.978},{"e":805,"v":0.978},{"e":808,"v":0.967},{"e":811,"v":0.978},{"e":814,"v":0.967},{"e":817,"v":0.967},{"e":820,"v":0.989},{"e":823,"v":0.978},{"e":826,"v":0.967},{"e":830,"v":0.989},{"e":833,"v":0.989},{"e":836,"v":0.978},{"e":839,"v":0.967},{"e":842,"v":0.9565},{"e":845,"v":0.967},{"e":848,"v":0.9565},{"e":851,"v":0.9565},{"e":854,"v":0.9565},{"e":857,"v":0.9565},{"e":860,"v":0.9565},{"e":863,"v":0.945},{"e":866,"v":0.945},{"e":869,"v":0.9565},{"e":872,"v":0.978},{"e":876,"v":0.978},{"e":890,"v":0.978},{"e":893,"v":0.967},{"e":896,"v":0.967},{"e":900,"v":0.9565},{"e":903,"v":0.967},{"e":931,"v":0.967},{"e":934,"v":0.978},{"e":941,"v":0.978},{"e":944,"v":0.967},{"e":961,"v":0.967},{"e":964,"v":0.978},{"e":967,"v":0.967},{"e":970,"v":0.9565},{"e":975,"v":0.9565},{"e":980,"v":0.9565},{"e":983,"v":0.967},{"e":989,"v":0.967},{"e":992,"v":0.9565},{"e":1000,"v":0.9565}]
},
"vconcat": [
 {"hconcat": [
  {"width": 455.6, "height": 288,
   "layer": [
    {"data": {"values": [{"e": 0}]}, "mark": {"type": "rule", "color": "#9a9a9a", "strokeWidth": 1.5},
     "encoding": {"x": {"field": "e", "type": "quantitative", "title": "Epochs", "scale": {"domain": [-100, 1100], "range": [15.6, 455.6], "nice": false, "zero": false},
       "axis": {"values": [-100,0,100,200,300,400,500,600,700,800,900,1000,1100], "tickCount": 100, "labelExpr": "datum.value == 1000 ? '1k' : (datum.value >= 0 && datum.value < 1000 && datum.value % 200 == 0 ? datum.label : '')", "labelPadding": 8, "titleX": 242.3, "titleY": 37, "titleBaseline": "top", "titleAlign": "center", "titleFontSize": 19, "titleColor": "#333333"}}}},
    {"data": {"name": "p1r"}, "mark": {"type": "line", "color": "#139c8a", "opacity": 0.22, "strokeWidth": 2.5, "clip": true},
     "encoding": {"x": {"field": "e", "type": "quantitative", "title": "Epochs"},
      "y": {"field": "v", "type": "quantitative", "title": "mAP_0.5", "scale": {"domain": [0.935, 1.0], "nice": false, "zero": false},
       "axis": {"values": [0.935,0.94,0.945,0.95,0.955,0.96,0.965,0.97,0.975,0.98,0.985,0.99,0.995,1.0], "tickCount": 100, "offset": -15.6, "labelExpr": "round(datum.value*1000) % 10 == 0 && datum.value < 0.995 ? format(datum.value, '.2f') : ''", "labelPadding": 8, "titleAngle": 0, "titleAlign": "left", "titleBaseline": "top", "titleX": -95.3, "titleY": -61, "titleFontSize": 22, "titleColor": "#212121"}}}},
    {"data": {"name": "p1s"}, "mark": {"type": "line", "color": "#139c8a", "strokeWidth": 3, "clip": true},
     "encoding": {"x": {"field": "e", "type": "quantitative", "title": "Epochs"}, "y": {"field": "v", "type": "quantitative", "title": "mAP_0.5"}}},
    {"data": {"name": "p1s"}, "transform": [{"filter": "datum.e == 1000"}], "mark": {"type": "circle", "color": "#139c8a", "size": 150, "opacity": 1},
     "encoding": {"x": {"field": "e", "type": "quantitative", "title": "Epochs"}, "y": {"field": "v", "type": "quantitative", "title": "mAP_0.5"}}}
   ]},
  {"width": 457, "height": 288,
   "layer": [
    {"data": {"values": [{"e": 0}]}, "mark": {"type": "rule", "color": "#9a9a9a", "strokeWidth": 1.5},
     "encoding": {"x": {"field": "e", "type": "quantitative", "title": "Epochs", "scale": {"domain": [-100, 1100], "nice": false, "zero": false},
       "axis": {"values": [-100,0,100,200,300,400,500,600,700,800,900,1000,1100], "tickCount": 100, "labelExpr": "datum.value == 1000 ? '1k' : (datum.value >= 0 && datum.value < 1000 && datum.value % 200 == 0 ? datum.label : '')", "labelPadding": 8, "titleX": 233, "titleY": 37, "titleBaseline": "top", "titleAlign": "center", "titleFontSize": 19, "titleColor": "#333333"}}}},
    {"data": {"name": "p2r"}, "mark": {"type": "line", "color": "#139c8a", "opacity": 0.22, "strokeWidth": 2.5, "clip": true},
     "encoding": {"x": {"field": "e", "type": "quantitative", "title": "Epochs"},
      "y": {"field": "v", "type": "quantitative", "title": "mAP_0.5:0.95", "scale": {"domain": [0.4, 0.8], "nice": false, "zero": false},
       "axis": {"values": [0.4,0.45,0.5,0.55,0.6,0.65,0.7,0.75,0.8], "tickCount": 100, "labelExpr": "round(datum.value*100) % 10 == 5 ? format(datum.value, '.2f') : ''", "labelPadding": 8, "titleAngle": 0, "titleAlign": "left", "titleBaseline": "top", "titleX": -79, "titleY": -61, "titleFontSize": 22, "titleColor": "#212121"}}}},
    {"data": {"name": "p2s"}, "mark": {"type": "line", "color": "#139c8a", "strokeWidth": 3, "clip": true},
     "encoding": {"x": {"field": "e", "type": "quantitative", "title": "Epochs"}, "y": {"field": "v", "type": "quantitative", "title": "mAP_0.5:0.95"}}},
    {"data": {"name": "p2s"}, "transform": [{"filter": "datum.e == 1000"}], "mark": {"type": "circle", "color": "#139c8a", "size": 150, "opacity": 1},
     "encoding": {"x": {"field": "e", "type": "quantitative", "title": "Epochs"}, "y": {"field": "v", "type": "quantitative", "title": "mAP_0.5:0.95"}}}
   ]}
 ], "spacing": 17.5},
 {"hconcat": [
  {"width": 456, "height": 287,
   "layer": [
    {"data": {"values": [{"e": 0}]}, "mark": {"type": "rule", "color": "#9a9a9a", "strokeWidth": 1.5},
     "encoding": {"x": {"field": "e", "type": "quantitative", "title": "Epochs", "scale": {"domain": [-100, 1100], "nice": false, "zero": false},
       "axis": {"values": [-100,0,100,200,300,400,500,600,700,800,900,1000,1100], "tickCount": 100, "labelExpr": "datum.value == 1000 ? '1k' : (datum.value >= 0 && datum.value < 1000 && datum.value % 200 == 0 ? datum.label : '')", "labelPadding": 8, "titleX": 241.3, "titleY": 35, "titleBaseline": "top", "titleAlign": "center", "titleFontSize": 19, "titleColor": "#333333"}}}},
    {"data": {"name": "p3r"}, "mark": {"type": "line", "color": "#139c8a", "opacity": 0.22, "strokeWidth": 2.5, "clip": true},
     "encoding": {"x": {"field": "e", "type": "quantitative", "title": "Epochs"},
      "y": {"field": "v", "type": "quantitative", "title": "precision", "scale": {"domain": [0.6, 1.05], "nice": false, "zero": false},
       "axis": {"values": [0.6,0.65,0.7,0.75,0.8,0.85,0.9,0.95,1.0,1.05], "tickCount": 100, "labelExpr": "round(datum.value*100) % 10 == 5 && datum.value < 1 ? format(datum.value, '.2f') : ''", "labelPadding": 8, "titleAngle": 0, "titleAlign": "left", "titleBaseline": "top", "titleX": -79.7, "titleY": -61, "titleFontSize": 22, "titleColor": "#212121"}}}},
    {"data": {"name": "p3s"}, "mark": {"type": "line", "color": "#139c8a", "strokeWidth": 3, "clip": true},
     "encoding": {"x": {"field": "e", "type": "quantitative", "title": "Epochs"}, "y": {"field": "v", "type": "quantitative", "title": "precision"}}},
    {"data": {"name": "p3s"}, "transform": [{"filter": "datum.e == 1000"}], "mark": {"type": "circle", "color": "#139c8a", "size": 150, "opacity": 1},
     "encoding": {"x": {"field": "e", "type": "quantitative", "title": "Epochs"}, "y": {"field": "v", "type": "quantitative", "title": "precision"}}}
   ]},
  {"width": 440, "height": 287,
   "layer": [
    {"data": {"values": [{"e": 0}]}, "mark": {"type": "rule", "color": "#9a9a9a", "strokeWidth": 1.5},
     "encoding": {"x": {"field": "e", "type": "quantitative", "title": "Epochs", "scale": {"domain": [-100, 1100], "nice": false, "zero": false},
       "axis": {"values": [-100,0,100,200,300,400,500,600,700,800,900,1000,1100], "tickCount": 100, "labelExpr": "datum.value == 1000 ? '1k' : (datum.value >= 0 && datum.value < 1000 && datum.value % 200 == 0 ? datum.label : '')", "labelPadding": 8, "titleX": 218.3, "titleY": 35, "titleBaseline": "top", "titleAlign": "center", "titleFontSize": 19, "titleColor": "#333333"}}}},
    {"data": {"name": "p4r"}, "mark": {"type": "line", "color": "#139c8a", "opacity": 0.22, "strokeWidth": 2.5, "clip": true},
     "encoding": {"x": {"field": "e", "type": "quantitative", "title": "Epochs"},
      "y": {"field": "v", "type": "quantitative", "title": "recall", "scale": {"domain": [0.945, 1.0], "nice": false, "zero": false},
       "axis": {"values": [0.945,0.95,0.955,0.96,0.965,0.97,0.975,0.98,0.985,0.99,0.995,1.0], "tickCount": 100, "labelExpr": "round(datum.value*1000) % 10 == 0 && datum.value < 0.995 ? format(datum.value, '.2f') : ''", "labelPadding": 8, "titleAngle": 0, "titleAlign": "left", "titleBaseline": "top", "titleX": -95.5, "titleY": -61, "titleFontSize": 22, "titleColor": "#212121"}}}},
    {"data": {"name": "p4s"}, "mark": {"type": "line", "color": "#139c8a", "strokeWidth": 3, "clip": true},
     "encoding": {"x": {"field": "e", "type": "quantitative", "title": "Epochs"}, "y": {"field": "v", "type": "quantitative", "title": "recall"}}},
    {"data": {"name": "p4s"}, "transform": [{"filter": "datum.e == 1000"}], "mark": {"type": "circle", "color": "#139c8a", "size": 150, "opacity": 1},
     "encoding": {"x": {"field": "e", "type": "quantitative", "title": "Epochs"}, "y": {"field": "v", "type": "quantitative", "title": "recall"}}}
   ]}
 ], "spacing": 17.5}
],
"spacing": 15.5
}
